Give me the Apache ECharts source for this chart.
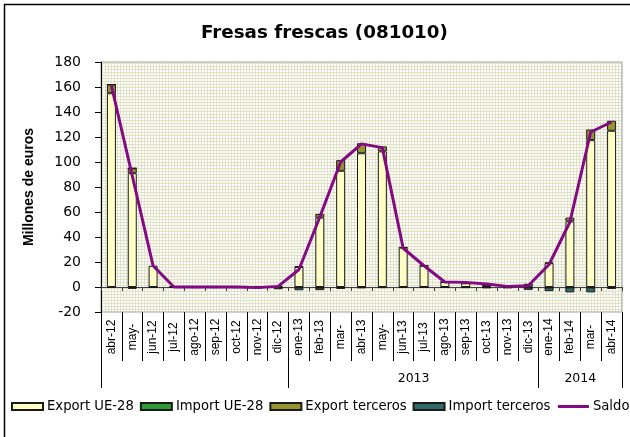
<!DOCTYPE html>
<html>
<head>
<meta charset="utf-8">
<script src="https://cdn.jsdelivr.net/npm/echarts@6/dist/echarts.min.js"></script>
<style>html,body{margin:0;padding:0;background:#fff;}#c{width:630px;height:437px;}</style>
</head>
<body>
<div id="c"></div>
<script>
const months = ['abr-12','may-','jun-12','jul-12','ago-12','sep-12','oct-12','nov-12','dic-12','ene-13','feb-13','mar-','abr-13','may-','jun-13','jul-13','ago-13','sep-13','oct-13','nov-13','dic-13','ene-14','feb-14','mar-','abr-14'];
const yearSlots = ['','','','','','','','','','','','','','','','2013','','','','','','','','2014','',''];
const yearBounds = [0, 9, 21, 25];
const exportUE = [155, 91, 17, 0.5, 0.3, 0.3, 0.3, 0.3, 1, 16, 55.5, 93, 107, 108.5, 31.5, 17, 4, 3, 1.5, 0.5, 2, 19, 52.5, 117.5, 125];
const importUE = [-0.3, -1.5, -0.3, -0.2, -0.2, -0.2, -0.2, -0.3, -0.3, -0.3, -0.5, -0.5, -0.3, -0.3, -0.2, -0.2, -0.2, -0.2, -0.3, -0.3, -0.3, -0.3, -0.3, -0.3, -0.5];
const exportTer = [7, 4, 0, 0, 0, 0, 0, 0, 0, 0.5, 3, 8.5, 8, 4, 0.3, 0.2, 0.2, 0.2, 0.2, 0.1, 0.2, 0.5, 3, 8.5, 8];
const importTer = [0, 0, 0, -0.3, -0.5, -0.5, -0.5, -1, -1.5, -2.3, -2, -1, -0.5, -0.3, -0.3, -0.3, -0.3, -0.5, -0.5, -0.5, -2, -3, -4, -4, -1];
const saldo = [161, 89, 17, 0, 0, 0, 0, -0.5, 0.5, 14, 56, 100, 114.5, 111.5, 31, 17, 4, 3.7, 2.4, 0.5, 1, 18, 52, 124, 132];
const yTicks = {min: -20, max: 180, interval: 20};

const tile = document.createElement('canvas');
tile.width = 3; tile.height = 3;
const tc = tile.getContext('2d');
tc.fillStyle = '#ffffff'; tc.fillRect(0,0,3,3);
tc.fillStyle = '#dfe2bd'; tc.fillRect(0,0,3,1);
tc.fillStyle = '#e2e2cc'; tc.fillRect(0,0,1,3);

const chart = echarts.init(document.getElementById('c'), null, {renderer: 'canvas'});
const barBase = {type: 'bar', stack: 'tot', xAxisIndex: 0, barWidth: 9};
chart.setOption({
  animation: false,
  backgroundColor: '#ffffff',
  title: {
    text: 'Fresas frescas (081010)',
    left: 201, top: 24, padding: 0,
    textStyle: {fontFamily: 'DejaVu Sans', fontWeight: 'bold', fontSize: 18.3, color: '#000'}
  },
  graphic: [{
    type: 'rect', silent: true, z: 100,
    shape: {x: 4.5, y: 4.5, width: 700, height: 700},
    style: {fill: 'none', stroke: '#000', lineWidth: 1.5}
  }],
  legend: {
    left: 11, top: 400, itemWidth: 31, itemHeight: 7, itemGap: 6, padding: 0,
    textStyle: {fontFamily: 'DejaVu Sans', fontSize: 13.2, color: '#000', padding: [0,0,0,-1]},
    data: [
      {name: 'Export UE-28', icon: 'rect'},
      {name: 'Import UE-28', icon: 'rect'},
      {name: 'Export terceros', icon: 'rect'},
      {name: 'Import terceros', icon: 'rect'},
      {name: 'Saldo', itemStyle: {opacity: 0}, lineStyle: {width: 3, color: '#830a83'}}
    ]
  },
  grid: {
    left: 101, right: 8, top: 62, bottom: 125, show: true,
    backgroundColor: {image: tile, repeat: 'repeat'},
    borderColor: '#a0a0a0', borderWidth: 1
  },
  xAxis: [
    {
      type: 'category', data: months, position: 'bottom',
      axisLine: {onZero: true, lineStyle: {color: '#404040', width: 1}},
      axisTick: {show: true, length: 4, interval: 0, lineStyle: {color: '#404040'}},
      axisLabel: {show: false}, splitLine: {show: false}
    },
    {
      type: 'category', data: months, position: 'bottom', offset: 0,
      axisLine: {show: false, onZero: false},
      axisTick: {show: true, length: 49, interval: 0, lineStyle: {color: '#000', width: 1}},
      axisLabel: {interval: 0, rotate: 90, align: 'center', verticalAlign: 'middle', margin: 25,
        fontFamily: 'Liberation Sans', fontSize: 12, color: '#000'},
      splitLine: {show: false}
    },
    {
      type: 'category', data: yearSlots, boundaryGap: false, position: 'bottom', offset: 49,
      axisLine: {show: false, onZero: false},
      axisTick: {show: true, length: 27, interval: function (i) { return yearBounds.indexOf(i) >= 0; },
        lineStyle: {color: '#000', width: 1}},
      axisLabel: {interval: 0, margin: 11, fontFamily: 'DejaVu Sans', fontSize: 12.5, color: '#000'},
      splitLine: {show: false}
    }
  ],
  yAxis: {
    type: 'value', min: yTicks.min, max: yTicks.max, interval: yTicks.interval,
    name: 'Millones de euros', nameLocation: 'middle', nameGap: 65,
    nameTextStyle: {fontFamily: 'Liberation Sans', fontWeight: 'bold', fontSize: 14, color: '#000'},
    axisLine: {show: true, lineStyle: {color: '#000', width: 1}},
    axisTick: {show: true, length: 6, lineStyle: {color: '#000'}},
    axisLabel: {margin: 20, fontFamily: 'DejaVu Sans', fontSize: 14, color: '#000'},
    splitLine: {show: false}
  },
  series: [
    Object.assign({}, barBase, {name: 'Export UE-28', data: exportUE,
      itemStyle: {color: '#ffffc6', borderColor: '#1a1a1a', borderWidth: 1}}),
    Object.assign({}, barBase, {name: 'Import UE-28', data: importUE,
      itemStyle: {color: '#2f9a36', borderColor: '#1a1a1a', borderWidth: 1}}),
    Object.assign({}, barBase, {name: 'Export terceros', data: exportTer,
      itemStyle: {color: '#96942c', borderColor: '#1a1a1a', borderWidth: 1}}),
    Object.assign({}, barBase, {name: 'Import terceros', data: importTer,
      itemStyle: {color: '#33696a', borderColor: '#1a1a1a', borderWidth: 1}}),
    {name: 'Saldo', type: 'line', xAxisIndex: 0, data: saldo, symbol: 'none', z: 5,
      lineStyle: {color: '#830a83', width: 3}, itemStyle: {color: '#830a83'}}
  ]
});
</script>
</body>
</html>
